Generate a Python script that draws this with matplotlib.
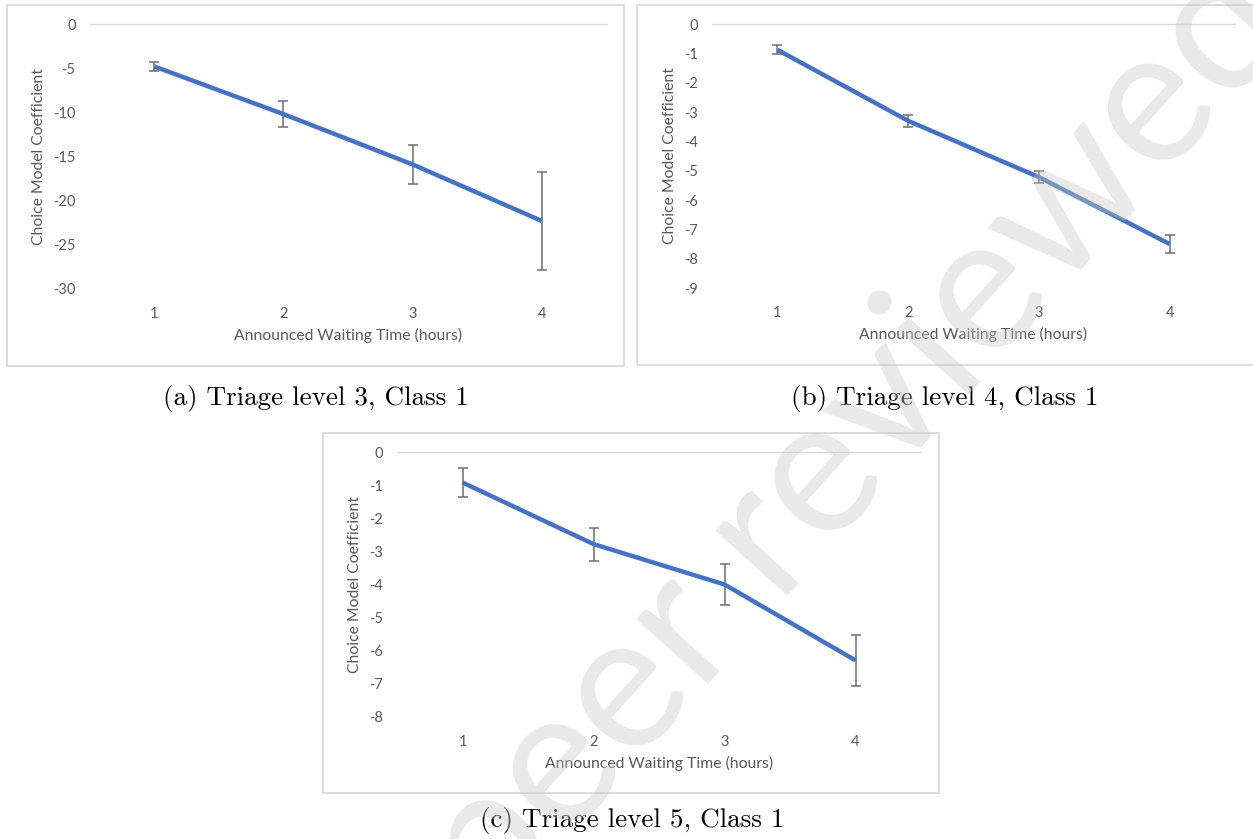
import matplotlib.pyplot as plt
from matplotlib.patches import Rectangle

plt.rcParams['font.family'] = ['Lato', 'DejaVu Sans']

hours = [1, 2, 3, 4]

# (a) triage 3, (b) triage 4, (c) triage 5
coef_a = [-4.8, -10.2, -15.9, -22.3]
err_a = [0.5, 1.5, 2.25, 5.5]
coef_b = [-0.88, -3.3, -5.22, -7.5]
err_b = [0.15, 0.2, 0.2, 0.3]
coef_c = [-0.92, -2.78, -4.0, -6.29]
err_c = [0.44, 0.5, 0.62, 0.78]

yticks_a = [0, -5, -10, -15, -20, -25, -30]
yticks_b = [0, -1, -2, -3, -4, -5, -6, -7, -8, -9]
yticks_c = [0, -1, -2, -3, -4, -5, -6, -7, -8]

captions = ['(a) Triage level 3, Class 1', '(b) Triage level 4, Class 1', '(c) Triage level 5, Class 1']

W, H = 1253, 839
fig = plt.figure(figsize=(W / 100, H / 100), dpi=100)


def px(x0, y0, x1, y1):
    # pixel box -> figure fraction [left, bottom, width, height]
    return [x0 / W, 1 - y1 / H, (x1 - x0) / W, (y1 - y0) / H]


panels = [
    (coef_a, err_a, yticks_a, px(89.5, 24, 606.5, 289), (7, 5, 624, 366), (316, 398)),
    (coef_b, err_b, yticks_b, px(712, 24, 1235, 288), (637, 5, 1262, 365), (945, 398)),
    (coef_c, err_c, yticks_c, px(397, 452, 921, 717), (323, 433, 939, 793), (632, 821)),
]

grey = '#595959'
for (coef, err, yt, rect, box, cap), text in zip(panels, captions):
    # chart frame
    fig.patches.append(Rectangle((box[0] / W, 1 - box[3] / H), (box[2] - box[0]) / W,
                                 (box[3] - box[1]) / H, transform=fig.transFigure,
                                 fill=False, edgecolor='#d9d9d9', linewidth=1.3))
    ax = fig.add_axes(rect)
    ax.axhline(0, color='#d9d9d9', linewidth=1.0, zorder=1, clip_on=False)
    ax.errorbar(hours, coef, yerr=err, fmt='none', ecolor='#6e6e6e', elinewidth=1.1,
                capsize=3.5, capthick=1.1, zorder=2)
    ax.plot(hours, coef, color='#4472C4', linewidth=3.2, solid_capstyle='butt', zorder=3)
    ax.set_xlim(0.5, 4.5)
    ax.set_ylim(yt[-1], 0)
    ax.set_xticks(hours)
    ax.set_yticks(yt)
    ax.set_yticklabels([str(v) for v in yt])
    ax.tick_params(length=0, labelsize=10.5, labelcolor=grey)
    ax.tick_params(axis='x', pad=13)
    ax.tick_params(axis='y', pad=10)
    for s in ax.spines.values():
        s.set_visible(False)
    ax.patch.set_alpha(0)
    ax.set_xlabel('Announced Waiting Time (hours)', fontsize=11.3, color=grey, labelpad=5)
    ax.set_ylabel('Choice Model Coefficient', fontsize=11.3, color=grey, labelpad=5)
    fig.text(cap[0] / W, 1 - cap[1] / H, text, family='cmr10', fontsize=19.5,
             ha='center', va='center')

# diagonal watermark
fig.text(855 / W, 1 - 440 / H, 'peer reviewed', fontsize=138, color='#c8c8c8', alpha=0.4,
         rotation=48, rotation_mode='anchor', ha='center', va='center', zorder=10)

fig.savefig('out.png', dpi=100)
